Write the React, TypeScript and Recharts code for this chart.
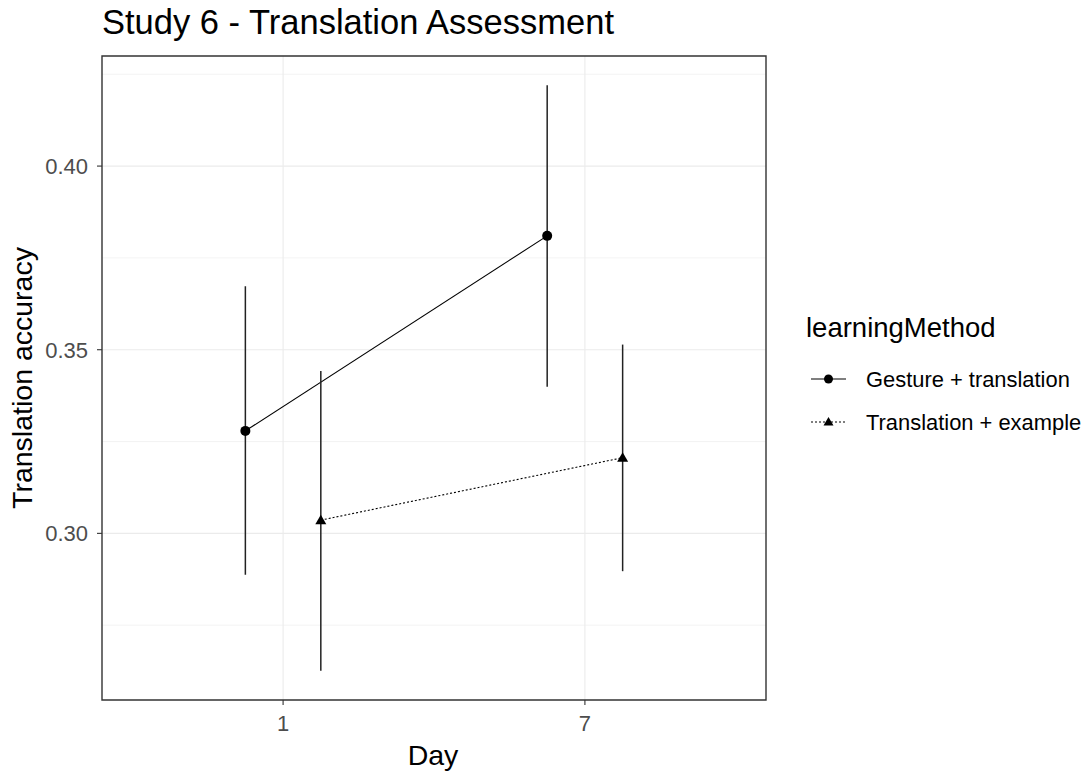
import React from 'react'
import {
  LineChart,
  Line,
  XAxis,
  YAxis,
  CartesianGrid,
  ErrorBar,
  ReferenceArea,
  Legend,
  Label,
} from 'recharts'

// Day categories (discrete x axis)
const days = ['1', '7']

// learningMethod levels
const methods = ['Gesture + translation', 'Translation + example']

// mean translation accuracy per day, one array per method
const gestureMean = [0.3279, 0.381]
const exampleMean = [0.3036, 0.3206]

// error bar bounds
const gestureLower = [0.2887, 0.3399]
const gestureUpper = [0.3673, 0.422]
const exampleLower = [0.2626, 0.2897]
const exampleUpper = [0.3442, 0.3514]

const majorY = [0.3, 0.35, 0.4]
const minorY = [0.275, 0.325, 0.375, 0.425]

const DODGE = 0.125
const FONT = '"Liberation Sans", Arial, Helvetica, sans-serif'

const buildSeries = (mean: number[], lower: number[], upper: number[], shift: number) =>
  days.map((d, i) => ({
    day: d,
    x: i + 1 + shift,
    y: mean[i],
    err: [mean[i] - lower[i], upper[i] - mean[i]],
  }))

const gestureData = buildSeries(gestureMean, gestureLower, gestureUpper, -DODGE)
const exampleData = buildSeries(exampleMean, exampleLower, exampleUpper, DODGE)

// ggplot style 5% expansion on continuous y, 0.6 on the discrete x
const allLow = Math.min(...gestureLower, ...exampleLower)
const allHigh = Math.max(...gestureUpper, ...exampleUpper)
const pad = (allHigh - allLow) * 0.05
const yDomain = [allLow - pad, allHigh + pad]
const xDomain = [1 - 0.6, days.length + 0.6]

const Triangle = (props: any) => {
  const { cx, cy, index } = props
  if (cx == null || cy == null) return <g key={`tri-${index}`} />
  return (
    <path
      key={`tri-${index}`}
      d={`M${cx},${cy - 5.5} L${cx + 5.5},${cy + 4} L${cx - 5.5},${cy + 4} Z`}
      fill="#000"
    />
  )
}

const LegendBox = () => (
  <svg width={295} height={150} style={{ fontFamily: FONT }}>
    <text x={16} y={37} fontSize={27.5} fill="#000">learningMethod</text>
    <line x1={21} x2={56} y1={79} y2={79} stroke="#000" strokeWidth={1.1} />
    <circle cx={38.5} cy={79} r={4.5} fill="#000" />
    <text x={76} y={79} fontSize={21.9} fill="#000" dominantBaseline="central">{methods[0]}</text>
    <line x1={21} x2={56} y1={122} y2={122} stroke="#000" strokeWidth={1.1} strokeDasharray="2 2" />
    <path d="M38.5,117 L43.5,125.5 L33.5,125.5 Z" fill="#000" />
    <text x={76} y={122} fontSize={21.9} fill="#000" dominantBaseline="central">{methods[1]}</text>
  </svg>
)

const YTitle = () => (
  <text
    x={32}
    y={378}
    transform="rotate(-90 32 378)"
    textAnchor="middle"
    fontSize={28.5}
    fill="#000"
    fontFamily={FONT}
  >
    Translation accuracy
  </text>
)

const XTitle = () => (
  <text x={433} y={765} textAnchor="middle" fontSize={28.5} fill="#000" fontFamily={FONT}>
    Day
  </text>
)

export default function App() {
  return (
    <div
      style={{
        position: 'absolute',
        left: 0,
        top: 0,
        width: 1085,
        height: 773,
        background: '#fff',
        fontFamily: FONT,
      }}
    >
      <div
        style={{
          position: 'absolute',
          left: 102,
          top: 5,
          fontSize: 34.5,
          lineHeight: '34.5px',
          color: '#000',
          whiteSpace: 'nowrap',
          zIndex: 2,
        }}
      >
        Study 6 - Translation Assessment
      </div>
      <LineChart
        width={1085}
        height={773}
        margin={{ top: 56, right: 319, bottom: 0, left: 0 }}
      >
        <CartesianGrid
          horizontalValues={minorY}
          vertical={false}
          stroke="#EBEBEB"
          strokeWidth={0.6}
        />
        <CartesianGrid
          horizontalValues={majorY}
          verticalValues={[1, 2]}
          stroke="#EBEBEB"
          strokeWidth={1.1}
        />
        <XAxis
          dataKey="x"
          type="number"
          domain={xDomain}
          ticks={[1, 2]}
          allowDataOverflow
          tickFormatter={(v: number) => days[Math.round(v) - 1]}
          height={73}
          axisLine={false}
          tickSize={5}
          tickMargin={10}
          tickLine={{ stroke: '#333', strokeWidth: 1.1 }}
          tick={{ fill: '#4D4D4D', fontSize: 22 }}
        >
          <Label content={XTitle} />
        </XAxis>
        <YAxis
          type="number"
          domain={yDomain}
          ticks={majorY}
          allowDataOverflow
          tickFormatter={(v: number) => v.toFixed(2)}
          width={102}
          axisLine={false}
          tickSize={5}
          tickMargin={9}
          tickLine={{ stroke: '#333', strokeWidth: 1.1 }}
          tick={{ fill: '#4D4D4D', fontSize: 22 }}
        >
          <Label content={YTitle} />
        </YAxis>
        <Line
          data={gestureData}
          dataKey="y"
          name={methods[0]}
          stroke="#000"
          strokeWidth={1.1}
          dot={{ r: 5, fill: '#000', stroke: 'none' }}
          activeDot={false}
          isAnimationActive={false}
        >
          <ErrorBar dataKey="err" direction="y" width={0} stroke="#222" strokeWidth={1.5} isAnimationActive={false} />
        </Line>
        <Line
          data={exampleData}
          dataKey="y"
          name={methods[1]}
          stroke="#000"
          strokeWidth={1.1}
          strokeDasharray="2 2"
          dot={Triangle}
          activeDot={false}
          isAnimationActive={false}
        >
          <ErrorBar dataKey="err" direction="y" width={0} stroke="#222" strokeWidth={1.5} isAnimationActive={false} />
        </Line>
        <ReferenceArea
          x1={xDomain[0]}
          x2={xDomain[1]}
          y1={yDomain[0]}
          y2={yDomain[1]}
          fill="none"
          fillOpacity={0}
          stroke="#333"
          strokeWidth={1.4}
          ifOverflow="extendDomain"
        />
        <Legend
          layout="horizontal"
          verticalAlign="middle"
          align="center"
          content={LegendBox}
          wrapperStyle={{ left: 790, top: 300, width: 295, height: 150 }}
        />
      </LineChart>
    </div>
  )
}
